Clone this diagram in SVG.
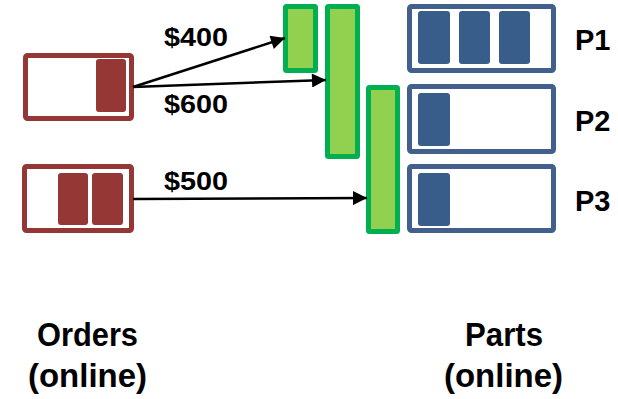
<svg xmlns="http://www.w3.org/2000/svg" width="618" height="399" viewBox="0 0 618 399">
<defs>
<marker id="ah" viewBox="0 0 10 10" refX="10" refY="5" markerWidth="6.5" markerHeight="5.6" markerUnits="strokeWidth" orient="auto">
<path d="M0,0 L10,5 L0,10 z" fill="#000"/>
</marker>
<style>
.ob{fill:#fff;stroke:#953735;stroke-width:5}
.oi{fill:#953735}
.gb{fill:#92D050;stroke:#00B050;stroke-width:5}
.pb{fill:#fff;stroke:#41618C;stroke-width:5}
.pi{fill:#385D8A}
.t{font-family:"Liberation Sans",Arial,sans-serif;font-weight:bold;fill:#000}
.c{stroke:#000;stroke-width:2.5;fill:none;marker-end:url(#ah)}
</style>
</defs>
<rect width="618" height="399" fill="#fff"/>
<g id="order1">
<rect class="ob" x="25.5" y="55.5" width="106" height="63" rx="2"/>
<rect class="oi" x="96" y="59" width="30" height="53" rx="3"/>
</g>
<g id="order2">
<rect class="ob" x="24.5" y="166.5" width="107" height="64" rx="2"/>
<rect class="oi" x="58" y="173" width="30" height="52" rx="3"/>
<rect class="oi" x="92" y="173" width="31" height="52" rx="3"/>
</g>
<g id="bar1"><rect class="gb" x="285.5" y="6.5" width="30" height="64" rx="1"/></g>
<g id="bar2"><rect class="gb" x="327.5" y="6.5" width="30" height="150" rx="1"/></g>
<g id="bar3"><rect class="gb" x="368.5" y="87.5" width="29" height="144" rx="1"/></g>
<g id="p1">
<rect class="pb" x="409.5" y="6.5" width="144" height="64" rx="2"/>
<rect class="pi" x="418" y="11" width="32" height="53" rx="3"/>
<rect class="pi" x="459" y="11" width="31" height="53" rx="3"/>
<rect class="pi" x="499" y="11" width="31" height="53" rx="3"/>
<text class="t" x="575" y="50" font-size="29">P1</text>
</g>
<g id="p2">
<rect class="pb" x="409.5" y="86.5" width="144" height="65" rx="2"/>
<rect class="pi" x="418" y="93" width="32" height="53" rx="3"/>
<text class="t" x="575" y="131" font-size="29">P2</text>
</g>
<g id="p3">
<rect class="pb" x="409.5" y="166.5" width="144" height="64" rx="2"/>
<rect class="pi" x="418" y="173" width="32" height="53" rx="3"/>
<text class="t" x="575" y="211" font-size="29">P3</text>
</g>
<g id="connectors">
<line class="c" x1="133" y1="87" x2="285" y2="38"/>
<line class="c" x1="133" y1="87" x2="326" y2="80"/>
<line class="c" x1="133" y1="199" x2="367" y2="198"/>
</g>
<g id="labels">
<text class="t" x="164" y="46" font-size="25" textLength="64" lengthAdjust="spacingAndGlyphs">$400</text>
<text class="t" x="164" y="113" font-size="25" textLength="64" lengthAdjust="spacingAndGlyphs">$600</text>
<text class="t" x="164" y="190" font-size="25" textLength="64" lengthAdjust="spacingAndGlyphs">$500</text>
<text class="t" x="87.5" y="346" font-size="33" text-anchor="middle" textLength="101" lengthAdjust="spacingAndGlyphs">Orders</text>
<text class="t" x="87.5" y="387" font-size="33" text-anchor="middle" textLength="119" lengthAdjust="spacingAndGlyphs">(online)</text>
<text class="t" x="504" y="346" font-size="33" text-anchor="middle" textLength="78" lengthAdjust="spacingAndGlyphs">Parts</text>
<text class="t" x="503.5" y="387" font-size="33" text-anchor="middle" textLength="119" lengthAdjust="spacingAndGlyphs">(online)</text>
</g>
</svg>
